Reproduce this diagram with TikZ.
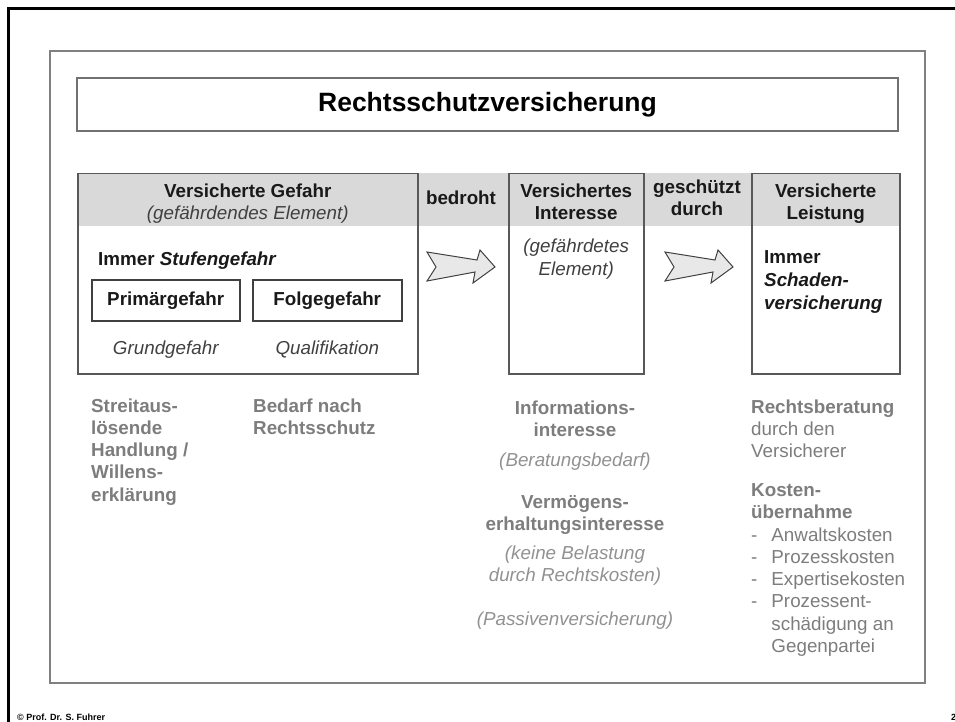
\documentclass[tikz,border=0pt]{standalone}
\usepackage{fontspec}
\setmainfont{Liberation Sans}
\usepackage{tikz}
\usetikzlibrary{positioning}
\usepackage{xcolor}
\definecolor{rsframe}{RGB}{128,128,128}
\definecolor{rsline}{RGB}{88,88,88}
\definecolor{rsdark}{RGB}{64,64,64}
\definecolor{rsband}{RGB}{217,217,217}
\definecolor{rsgrey}{RGB}{125,125,125}
\definecolor{rsarrow}{RGB}{232,232,232}
\newcommand{\rsfont}{\fontsize{18.8}{22.2}\selectfont}
\tikzstyle{titlebox} = [draw=rsline!85, line width=2pt, minimum width=821pt, minimum height=53pt, inner sep=0, font=\bfseries\fontsize{26.5}{30}\selectfont]
\tikzstyle{colbox} = [draw=rsline, line width=1.5pt, anchor=north west, inner sep=0, minimum height=200pt]
\tikzstyle{smallbox} = [draw=rsdark, line width=1.5pt, anchor=north west, inner sep=0, minimum height=41pt, font=\rsfont\bfseries, text=black!90]
\tikzstyle{hdr} = [inner sep=0, align=center, anchor=north, font=\rsfont\bfseries, text=black!90]
\tikzstyle{bodytext} = [inner sep=0, align=left, font=\rsfont\bfseries, text=black!90]
\tikzstyle{italtext} = [inner sep=0, align=center, anchor=north, font=\rsfont\itshape, text=rsdark]
\tikzstyle{greytext} = [inner sep=0, align=left, anchor=north west, font=\rsfont\bfseries, text=rsgrey]
\tikzstyle{greyital} = [inner sep=0, align=center, font=\rsfont\itshape, text=rsgrey!85]
\tikzstyle{blockarrow} = [draw=rsdark, line width=1pt, fill=rsarrow, line join=miter]

\begin{document}
\begin{tikzpicture}[x=1pt, y=-1pt]
\useasboundingbox (0,0) rectangle (955,722);
% Page frame
\draw[line width=3pt, black] (8.5,722) |- (955,8.5);
\draw[line width=2pt, rsframe] (50,51) rectangle (925,683);
% Title
\node[titlebox] (title) at (487.5,104.5) {Rechtsschutzversicherung};
% Header band and columns
\fill[rsband] (77,173) rectangle (899,226);
\node[colbox, minimum width=340pt] (gefahr) at (77,173) {};
\node[colbox, minimum width=135pt] (interesse) at (508,173) {};
\node[colbox, minimum width=148pt] (leistung) at (751,173) {};
\node[hdr, below=10.5pt of gefahr.north] (gefahrhd) {Versicherte Gefahr\\{\itshape\mdseries\color{rsdark}(gefährdendes Element)}};
\node[hdr] (bedroht) at (461,190.5) {bedroht};
\node[hdr, below=10.5pt of interesse.north] (interessehd) {Versichertes\\Interesse};
\node[hdr] (geschuetzt) at (697,179.5) {geschützt\\durch};
\node[hdr, below=10.5pt of leistung.north] (leistunghd) {Versicherte\\Leistung};
% Versicherte Gefahr
\node[bodytext, anchor=base west] (stufe) at (98,265) {Immer \textit{Stufengefahr}};
\node[smallbox, minimum width=148pt] (primaer) at (91,279) {Primärgefahr};
\node[smallbox, minimum width=149pt] (folge) at (252,279) {Folgegefahr};
\node[italtext, below=19pt of primaer] (grund) {Grundgefahr};
\node[italtext, below=19pt of folge] (quali) {Qualifikation};
% Versichertes Interesse
\node[italtext, below=66pt of interesse.north] (element) {(gefährdetes\\Element)};
% Versicherte Leistung
\node[bodytext, anchor=north west, font=\fontsize{18.8}{23}\selectfont\bfseries] (schaden) at (764,250.5) {Immer\\\textit{Schaden-}\\\textit{versicherung}};
% Block arrows
\coordinate (pfeila) at (427,267);
\coordinate (pfeilb) at (665,267);
\foreach \p in {pfeila,pfeilb}
  \draw[blockarrow] (\p) ++(0,-15) -- ++(50,8) -- ++(3,-10) -- ++(15,17) -- ++(-22,16) -- ++(2,-11) -- ++(-48,9) -- ++(9,-14) -- cycle;
% Explanations below
\node[greytext] (streit) at (91,398.5) {Streitaus-\\lösende\\Handlung /\\Willens-\\erklärung};
\node[greytext] (bedarf) at (253,398.5) {Bedarf nach\\Rechtsschutz};
\node[greytext, align=center, anchor=north] (info) at (575,400.5) {Informations-\\interesse};
\node[greyital, anchor=base] (beratungsbedarf) at (575,466) {(Beratungsbedarf)};
\node[greytext, align=center, anchor=north] (vermoegen) at (575,495.5) {Vermögens-\\erhaltungsinteresse};
\node[greyital, anchor=north] (belastung) at (575,545.5) {(keine Belastung\\durch Rechtskosten)};
\node[greyital, anchor=base] (passiv) at (575,625) {(Passivenversicherung)};
\node[greytext] (rechtsberatung) at (751,399.5) {Rechtsberatung\\{\mdseries durch den}\\{\mdseries Versicherer}};
\node[greytext] (kosten) at (751,483.5) {Kosten-\\übernahme};
\node[greytext, font=\rsfont] (posten) at (751,525.5) {\begin{tabular}{@{}l@{\hspace{14pt}}l@{}}
-& Anwaltskosten\\
-& Prozesskosten\\
-& Expertisekosten\\
-& Prozessent-\\
 & schädigung an\\
 & Gegenpartei
\end{tabular}};
% Footer
\node[anchor=base west, inner sep=0, font=\bfseries\fontsize{9}{10}\selectfont] (copyright) at (17,720) {\textcopyright\ Prof. Dr. S. Fuhrer};
\node[anchor=base west, inner sep=0, font=\bfseries\fontsize{9}{10}\selectfont] (seite) at (951,720) {2};
\end{tikzpicture}
\end{document}
